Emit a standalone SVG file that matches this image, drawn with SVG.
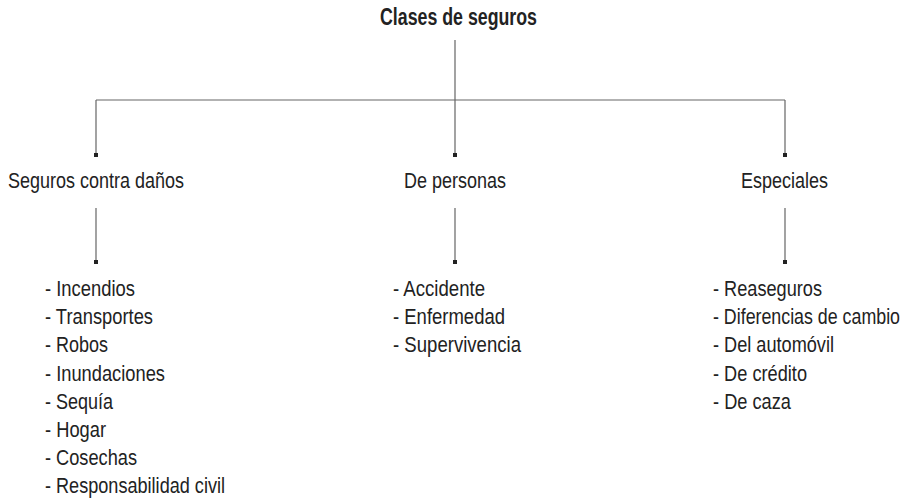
<svg xmlns="http://www.w3.org/2000/svg" width="921" height="503" viewBox="0 0 921 503">
<style>
  text { font-family: "Liberation Sans", Arial, sans-serif; fill: #222; }
  .t { font-size: 23px; font-weight: bold; }
  .n { font-size: 22px; }
  .c { stroke: #666; stroke-width: 1.2; fill: none; }
  .d { fill: #222; }
</style>
<rect width="921" height="503" fill="#fff"/>
<g id="connectors">
  <path class="c" d="M455 40V100M96 100H785M96 100V155M455 100V155M785 100V155"/>
  <rect class="d" x="94" y="153" width="4" height="4"/>
  <rect class="d" x="453" y="153" width="4" height="4"/>
  <rect class="d" x="783" y="153" width="4" height="4"/>
  <path class="c" d="M96 208V262M455 208V262M785 208V262"/>
  <rect class="d" x="94" y="260" width="4" height="4"/>
  <rect class="d" x="453" y="260" width="4" height="4"/>
  <rect class="d" x="783" y="260" width="4" height="4"/>
</g>
<g id="root">
  <text class="t" x="380" y="25" textLength="157" lengthAdjust="spacingAndGlyphs">Clases de seguros</text>
</g>
<g id="danos">
  <text class="n" x="8" y="188" textLength="176" lengthAdjust="spacingAndGlyphs">Seguros contra daños</text>
</g>
<g id="personas">
  <text class="n" x="404" y="188" textLength="102" lengthAdjust="spacingAndGlyphs">De personas</text>
</g>
<g id="especiales">
  <text class="n" x="741" y="188" textLength="87" lengthAdjust="spacingAndGlyphs">Especiales</text>
</g>
<g id="lista-danos">
  <text class="n" x="45" y="296" textLength="90" lengthAdjust="spacingAndGlyphs">- Incendios</text>
  <text class="n" x="45" y="324.2" textLength="108" lengthAdjust="spacingAndGlyphs">- Transportes</text>
  <text class="n" x="45" y="352.4" textLength="63" lengthAdjust="spacingAndGlyphs">- Robos</text>
  <text class="n" x="45" y="380.6" textLength="120" lengthAdjust="spacingAndGlyphs">- Inundaciones</text>
  <text class="n" x="45" y="408.8" textLength="68" lengthAdjust="spacingAndGlyphs">- Sequía</text>
  <text class="n" x="45" y="437" textLength="61" lengthAdjust="spacingAndGlyphs">- Hogar</text>
  <text class="n" x="45" y="465.2" textLength="92" lengthAdjust="spacingAndGlyphs">- Cosechas</text>
  <text class="n" x="45" y="493.4" textLength="180" lengthAdjust="spacingAndGlyphs">- Responsabilidad civil</text>
</g>
<g id="lista-personas">
  <text class="n" x="393" y="296" textLength="92" lengthAdjust="spacingAndGlyphs">- Accidente</text>
  <text class="n" x="393" y="324.2" textLength="112" lengthAdjust="spacingAndGlyphs">- Enfermedad</text>
  <text class="n" x="393" y="352.4" textLength="128" lengthAdjust="spacingAndGlyphs">- Supervivencia</text>
</g>
<g id="lista-especiales">
  <text class="n" x="713" y="296" textLength="109" lengthAdjust="spacingAndGlyphs">- Reaseguros</text>
  <text class="n" transform="translate(713 324.2) scale(0.81 1)">- Diferencias de cambio</text>
  <text class="n" x="713" y="352.4" textLength="121" lengthAdjust="spacingAndGlyphs">- Del automóvil</text>
  <text class="n" x="713" y="380.6" textLength="94" lengthAdjust="spacingAndGlyphs">- De crédito</text>
  <text class="n" x="713" y="408.8" textLength="78" lengthAdjust="spacingAndGlyphs">- De caza</text>
</g>
</svg>
